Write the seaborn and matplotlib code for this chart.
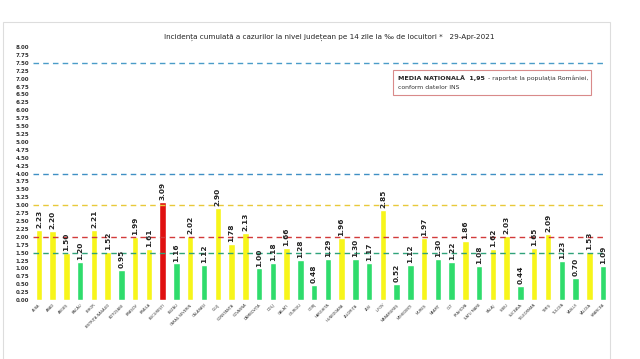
import matplotlib
matplotlib.use("Agg")
import matplotlib.pyplot as plt
from matplotlib.patches import Rectangle
import seaborn as sns
import pandas as pd

# Judete + incidenta la 14 zile (la mie locuitori)
judete = [
    "ALBA", "ARAD", "ARGEȘ", "BACĂU", "BIHOR", "BISTRIȚA-NĂSĂUD", "BOTOȘANI",
    "BRAȘOV", "BRĂILA", "BUCUREȘTI", "BUZĂU", "CARAȘ-SEVERIN", "CĂLĂRAȘI",
    "CLUJ", "CONSTANȚA", "COVASNA", "DÂMBOVIȚA", "DOLJ", "GALAȚI", "GIURGIU",
    "GORJ", "HARGHITA", "HUNEDOARA", "IALOMIȚA", "IAȘI", "ILFOV", "MARAMUREȘ",
    "MEHEDINȚI", "MUREȘ", "NEAMȚ", "OLT", "PRAHOVA", "SATU MARE", "SĂLAJ",
    "SIBIU", "SUCEAVA", "TELEORMAN", "TIMIȘ", "TULCEA", "VASLUI", "VÂLCEA",
    "VRANCEA",
]
incidenta = [
    2.23, 2.20, 1.50, 1.20, 2.21, 1.52, 0.95,
    1.99, 1.61, 3.09, 1.16, 2.02, 1.12,
    2.90, 1.78, 2.13, 1.00, 1.18, 1.66, 1.28,
    0.48, 1.29, 1.96, 1.30, 1.17, 2.85, 0.52,
    1.12, 1.97, 1.30, 1.22, 1.86, 1.08, 1.62,
    2.03, 0.44, 1.65, 2.09, 1.23, 0.70, 1.53,
    1.09,
]
praguri = [7.5, 4.0, 3.0, 2.0, 1.5]
culori_praguri = ["#4a9cc8", "#3f8fc4", "#e8c93a", "#d23a3a", "#2fa37a"]
yticks = [i * 0.25 for i in range(33)]

titlu = ("Incidența cumulată a cazurilor la nivel județean pe 14 zile la ‰ de locuitori *"
         "   29-Apr-2021")

df = pd.DataFrame({"judet": judete, "val": incidenta})
df["nivel"] = ["rosu" if v >= 3 else ("galben" if v >= 1.5 else "verde") for v in df["val"]]
paleta = {"rosu": "#e01010", "galben": "#f7f51a", "verde": "#2fdc6c"}

sns.set_theme(style="white")
plt.rcParams["font.family"] = ["DejaVu Sans"]

fig = plt.figure(figsize=(6.4, 3.59), dpi=100)
ax = fig.add_axes([0.05, 0.164, 0.903, 0.705])

# chenar gri in jurul graficului
fig.add_artist(Rectangle((0.004, -0.01), 0.949, 0.949, transform=fig.transFigure,
                         fill=False, edgecolor="#dddddd", linewidth=0.8))

sns.barplot(data=df, x="judet", y="val", hue="nivel", palette=paleta, saturation=1,
            dodge=False, width=0.47, legend=False, ax=ax, zorder=2)

for y, c in zip(praguri, culori_praguri):
    ax.hlines(y, -0.4, 41.2, colors=c, linestyles=(0, (4, 3)), linewidth=1.0, zorder=3)

for i, v in enumerate(incidenta):
    ax.text(i, v + 0.06, f"{v:.2f}", rotation=90, ha="center", va="bottom",
            fontsize=5.3, fontweight="bold", color="#222222", zorder=4)

ax.set_xlim(-0.5, 41.5)
ax.set_ylim(0, 8)
ax.set_yticks(yticks)
ax.set_yticklabels([f"{t:.2f}" for t in yticks], fontsize=4, fontweight="bold", color="#333333")
ax.set_xticks(range(len(judete)))
ax.set_xticklabels(judete, rotation=45, ha="right", rotation_mode="anchor",
                   fontsize=2.6, color="#333333")
ax.tick_params(axis="both", length=0, pad=2)
ax.set_xlabel("")
ax.set_ylabel("")
for s in ax.spines.values():
    s.set_visible(False)

fig.text(0.515, 0.895, titlu, ha="center", va="center", fontsize=5.2, color="#222222")

# caseta media nationala
fig.add_artist(Rectangle((0.614, 0.735), 0.31, 0.07, transform=fig.transFigure,
                         fill=True, facecolor="white", edgecolor="#d98a8a", linewidth=0.8))
fig.text(0.622, 0.783, "MEDIA NAȚIONALĂ  1,95", ha="left", va="center",
         fontsize=4.6, fontweight="bold", color="#222222")
fig.text(0.762, 0.783, "- raportat la populația României,", ha="left", va="center",
         fontsize=4.4, color="#333333")
fig.text(0.622, 0.755, "conform datelor INS", ha="left", va="center",
         fontsize=4.4, color="#333333")

fig.savefig("out.png", dpi=100, facecolor="white")
